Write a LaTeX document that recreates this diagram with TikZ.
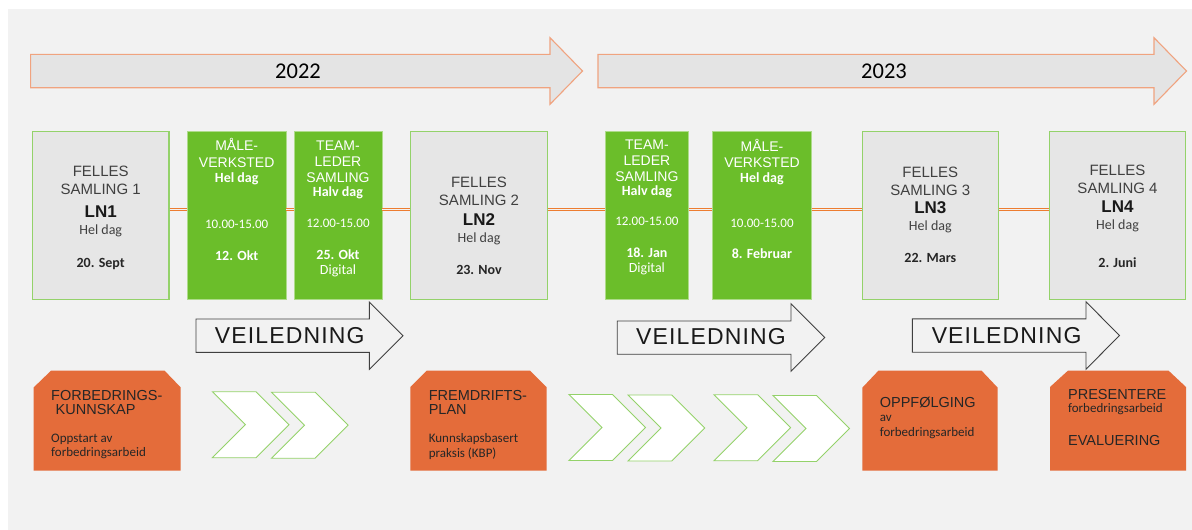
\documentclass[tikz,border=0pt]{standalone}
\usepackage{fontspec}
\setmainfont{Liberation Sans}
\newfontfamily\calibri{Carlito}
\newfontfamily\wide[LetterSpace=5]{Liberation Sans}
\usetikzlibrary{shapes.symbols}

\definecolor{bg}{HTML}{F2F2F2}
\definecolor{arrowgrey}{HTML}{E4E4E4}
\definecolor{salmon}{HTML}{F0A37F}
\definecolor{boxgrey}{HTML}{E6E6E6}
\definecolor{boxgreen}{HTML}{94D26A}
\definecolor{grassgreen}{HTML}{6BBE2A}
\definecolor{rust}{HTML}{E46C3A}
\definecolor{linkorange}{HTML}{ED7D31}
\definecolor{textgrey}{HTML}{404040}

\newcommand{\fsz}[1]{\fontsize{#1}{#1}\selectfont}

\begin{document}
\begin{tikzpicture}[x=1pt,y=-1pt,
  every node/.style={inner sep=0pt},
  yeararrow/.style={fill=arrowgrey,draw=salmon,line width=1.1pt},
  guidearrow/.style={fill=bg,draw=black!75,line width=.9pt},
  fellesbox/.style={rectangle,fill=boxgrey,draw=boxgreen,line width=1.2pt,minimum height=167.4pt,minimum width=136.4pt},
  greenbox/.style={rectangle,fill=grassgreen,draw=grassgreen!55!white,line width=.8pt,minimum height=167.4pt},
  fellestext/.style={anchor=north,align=center,text=textgrey,font=\fontsize{15}{18.3}\selectfont},
  greentext/.style={anchor=north,align=center,text=white,font=\fontsize{14}{16}\selectfont},
  tiltak/.style={fill=rust},
  tiltaktext/.style={anchor=north west,align=left,text=black!85,font=\fontsize{14.5}{14}\selectfont},
  chevron/.style={signal,signal from=west,signal to=east,signal pointer angle=90,fill=white,draw=boxgreen,line width=.9pt,minimum width=76.6pt,minimum height=66pt},
  link/.style={draw=linkorange,double=bg,double distance=1.1pt,line width=.9pt},
  yeartext/.style={font=\calibri\fontsize{22.5}{24}\selectfont},
  guidetext/.style={font=\wide\fontsize{23}{26}\selectfont,text=black!90}]

  \useasboundingbox (0,0) rectangle (1192,530);
  \fill[bg] (8,9) rectangle (1192,530);

  % year arrows
  \draw[yeararrow] (30.6,54.3) -- (550,54.3) -- (550,37.7) -- (582.5,71) -- (550,104.3) -- (550,87.7) -- (30.6,87.7) -- cycle;
  \draw[yeararrow] (598,54.3) -- (1154,54.3) -- (1154,37.7) -- (1186.5,71) -- (1154,104.3) -- (1154,87.7) -- (598,87.7) -- cycle;
  \node[yeartext] (y2022) at (298,71) {2022};
  \node[yeartext] (y2023) at (884,71) {2023};

  % samlinger
  \node[fellesbox] (fs1) at (100.7,215.5) {};
  \node[greenbox,minimum width=98.7pt] (mv1) at (236.7,215.5) {};
  \node[greenbox,minimum width=88pt] (tl1) at (338,215.5) {};
  \node[fellesbox] (fs2) at (479,215.5) {};
  \node[greenbox,minimum width=83.7pt] (tl2) at (646.9,215.5) {};
  \node[greenbox,minimum width=98.6pt] (mv2) at (762,215.5) {};
  \node[fellesbox] (fs3) at (930.3,215.5) {};
  \node[fellesbox] (fs4) at (1117.5,215.5) {};

  \foreach \a/\b in {fs1/mv1,mv1/tl1,tl1/fs2,fs2/tl2,tl2/mv2,mv2/fs3,fs3/fs4}
    \draw[link] ([yshift=5.8pt]\a.east) -- ([yshift=5.8pt]\b.west);

  \node[fellestext] (fs1-txt) at (100.7,165.5) {FELLES\\[.4pt]SAMLING 1\\[4.3pt]{\fsz{17}\bfseries\color{black!90}LN1}\\[-1.6pt]{\calibri\fsz{14}Hel dag}\\[14.7pt]{\calibri\fsz{14}\bfseries\color{black!85}20. Sept}};
  \node[greentext] (mv1-txt) at (236.7,138.2) {MÅLE-\\[.5pt]VERKSTED\\[-.5pt]{\calibri\fsz{14}\bfseries Hel dag}\\[30pt]{\calibri\fsz{13}10.00-15.00}\\[16.3pt]{\calibri\fsz{14}\bfseries 12. Okt}};
  \node[greentext] (tl1-txt) at (338,140.4) {TEAM-\\[.4pt]LEDER\\[-.4pt]SAMLING\\[-2pt]{\calibri\fsz{14}\bfseries Halv dag}\\[15.7pt]{\calibri\fsz{13}12.00-15.00}\\[15.6pt]{\calibri\fsz{14}\bfseries 25. Okt}\\[-1pt]{\calibri\fsz{14}Digital}};
  \node[fellestext] (fs2-txt) at (479,177.2) {FELLES\\[-.3pt]SAMLING 2\\[1pt]{\fsz{17}\bfseries\color{black!90}LN2}\\[-.9pt]{\calibri\fsz{14}Hel dag}\\[14pt]{\calibri\fsz{14}\bfseries\color{black!85}23. Nov}};
  \node[greentext] (tl2-txt) at (646.9,139.4) {TEAM-\\[.4pt]LEDER\\[-.4pt]SAMLING\\[-2pt]{\calibri\fsz{14}\bfseries Halv dag}\\[14pt]{\calibri\fsz{13}12.00-15.00}\\[16pt]{\calibri\fsz{14}\bfseries 18. Jan}\\[-.6pt]{\calibri\fsz{14}Digital}};
  \node[greentext] (mv2-txt) at (762,139) {MÅLE-\\VERKSTED\\[-1.3pt]{\calibri\fsz{14}\bfseries Hel dag}\\[29.3pt]{\calibri\fsz{13}10.00-15.00}\\[15.4pt]{\calibri\fsz{14}\bfseries 8. Februar}};
  \node[fellestext] (fs3-txt) at (930.3,166.5) {FELLES\\SAMLING 3\\{\fsz{17}\bfseries\color{black!90}LN3}\\[-1.6pt]{\calibri\fsz{14}Hel dag}\\[13.7pt]{\calibri\fsz{14}\bfseries\color{black!85}22. Mars}};
  \node[fellestext] (fs4-txt) at (1117.5,164.8) {FELLES\\SAMLING 4\\[.4pt]{\fsz{17}\bfseries\color{black!90}LN4}\\[-1.7pt]{\calibri\fsz{14}Hel dag}\\[19.7pt]{\calibri\fsz{14}\bfseries\color{black!85}2. Juni}};

  % veiledning
  \draw[guidearrow] (196,319) -- (369.3,319) -- (369.3,302) -- (403,335.7) -- (369.3,369.4) -- (369.3,352.4) -- (196,352.4) -- cycle;
  \draw[guidearrow] (617.2,321) -- (791,321) -- (791,303.7) -- (824.8,337.5) -- (791,371.3) -- (791,354.2) -- (617.2,354.2) -- cycle;
  \draw[guidearrow] (912.3,318.8) -- (1086,318.8) -- (1086,301.8) -- (1119.5,335.5) -- (1086,369.2) -- (1086,352.2) -- (912.3,352.2) -- cycle;
  \node[guidetext] (g1) at (289.7,335.5) {VEILEDNING};
  \node[guidetext] (g2) at (711,337) {VEILEDNING};
  \node[guidetext] (g3) at (1006.6,335.3) {VEILEDNING};

  % tiltak
  \fill[tiltak] (33.7,470.7) -- (33.7,387.4) -- (51,370.7) -- (164.6,370.7) -- (180.7,387.4) -- (180.7,470.7) -- cycle;
  \fill[tiltak] (410.3,470.7) -- (410.3,387) -- (426.7,370.7) -- (530,370.7) -- (546.5,387) -- (546.5,470.7) -- cycle;
  \fill[tiltak] (862.3,470.7) -- (862.3,387.7) -- (878.4,370.7) -- (981.6,370.7) -- (997.7,387.7) -- (997.7,470.7) -- cycle;
  \fill[tiltak] (1050,470.7) -- (1050,387) -- (1067.9,370.7) -- (1168.6,370.7) -- (1186,387) -- (1186,470.7) -- cycle;
  \node[tiltaktext] (t1-txt) at (51,390) {FORBEDRINGS-\\[.3pt]\hspace*{4.5pt}KUNNSKAP\\[14.3pt]{\calibri\fsz{13}Oppstart av}\\{\calibri\fsz{13}forbedringsarbeid}};
  \node[tiltaktext] (t2-txt) at (428.6,390) {FREMDRIFTS-\\[.3pt]PLAN\\[14pt]{\calibri\fsz{13}Kunnskapsbasert}\\[.7pt]{\calibri\fsz{13}praksis (KBP)}};
  \node[tiltaktext] (t3-txt) at (879.6,396.7) {OPPFØLGING\\[.4pt]{\calibri\fsz{13}av}\\[1pt]{\calibri\fsz{13}forbedringsarbeid}};
  \node[tiltaktext] (t4-txt) at (1067.9,389) {PRESENTERE\\[-.7pt]{\calibri\fsz{13}forbedringsarbeid}\\[19pt]EVALUERING};

  % chevrons
  \foreach \n/\x/\y in {c1/250.7/424.7,c2/309.8/425.2,c3/607.2/427.5,c4/666.4/428,c5/752.3/427.7,c6/811.3/428.5}
    \node[chevron] (\n) at (\x,\y) {};

\end{tikzpicture}
\end{document}
